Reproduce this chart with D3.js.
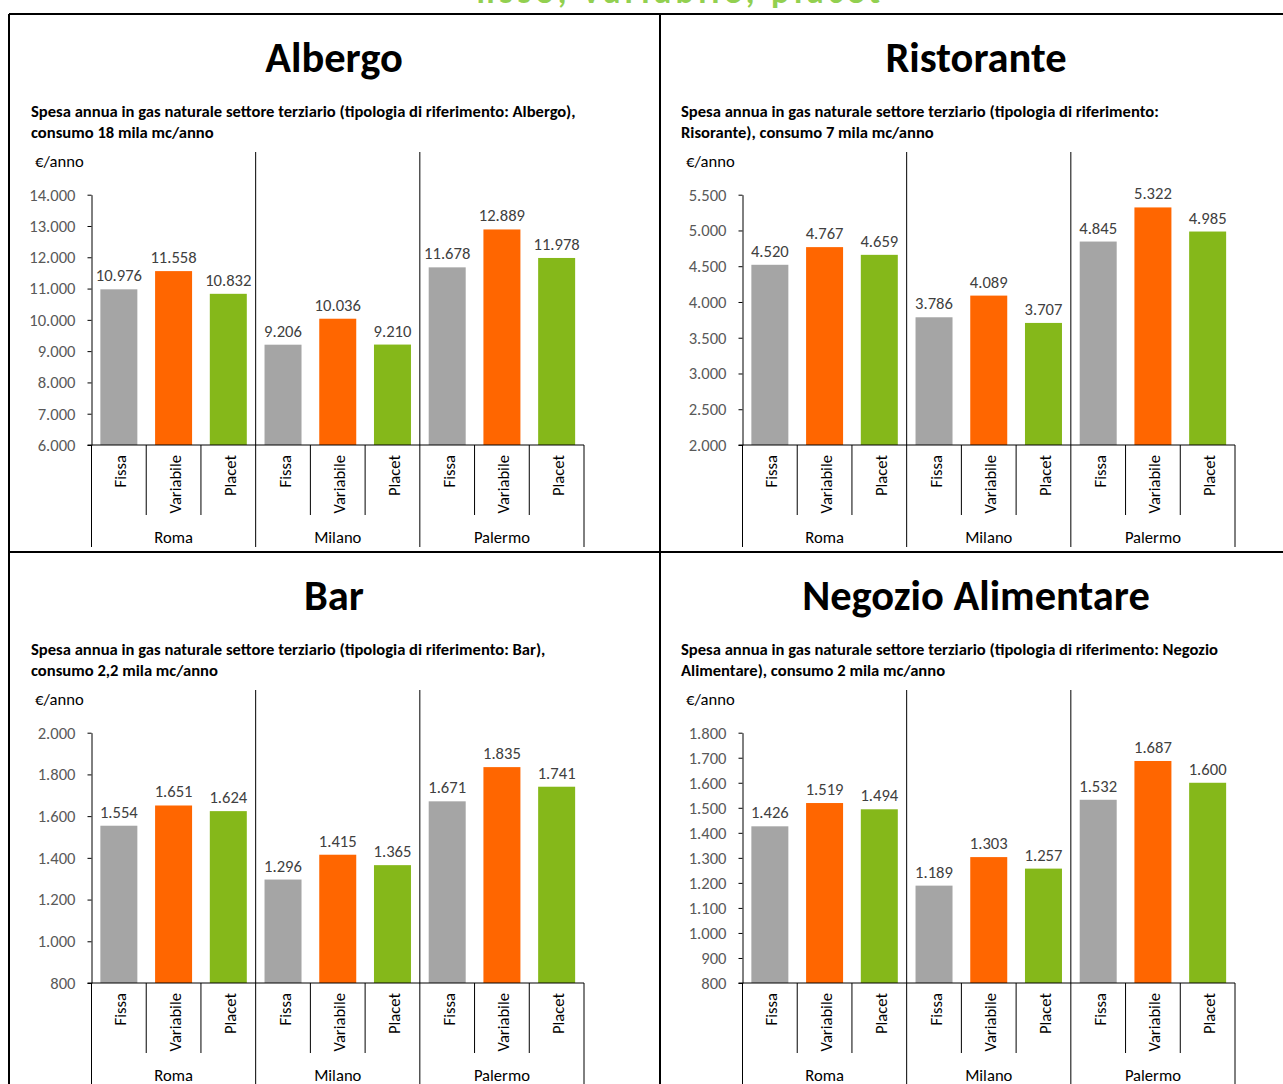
<!DOCTYPE html>
<html>
<head>
<meta charset="utf-8">
<script src="https://cdn.jsdelivr.net/npm/d3@7"></script>
<style>
  body { margin: 0; background: #fff; }
  svg { display: block; }
  text { font-family: Carlito, Lato, "Noto Sans", sans-serif; }
</style>
</head>
<body>
<svg id="chart" width="1283" height="1084"></svg>
<script>
// ---- data -------------------------------------------------------------
const cities = ["Roma", "Milano", "Palermo"];
const offers = ["Fissa", "Variabile", "Placet"];
const offerColors = ["#A5A5A5", "#FF6600", "#85B81A"];

const headline = "fisso, variabile, placet";

const panelTitles = ["Albergo", "Ristorante", "Bar", "Negozio Alimentare"];
const panelSubtitles = [
  ["Spesa annua in gas naturale settore terziario (tipologia di riferimento: Albergo),", "consumo 18 mila mc/anno"],
  ["Spesa annua in gas naturale settore terziario (tipologia di riferimento:", "Risorante), consumo 7 mila mc/anno"],
  ["Spesa annua in gas naturale settore terziario (tipologia di riferimento: Bar),", "consumo 2,2 mila mc/anno"],
  ["Spesa annua in gas naturale settore terziario (tipologia di riferimento: Negozio", "Alimentare), consumo 2 mila mc/anno"]
];
const unitLabel = "€/anno";

// values per city: [Fissa, Variabile, Placet]
const albergoValues    = [[10976, 11558, 10832], [9206, 10036, 9210], [11678, 12889, 11978]];
const ristoranteValues = [[4520, 4767, 4659],    [3786, 4089, 3707],  [4845, 5322, 4985]];
const barValues        = [[1554, 1651, 1624],    [1296, 1415, 1365],  [1671, 1835, 1741]];
const negozioValues    = [[1426, 1519, 1494],    [1189, 1303, 1257],  [1532, 1687, 1600]];

// y axis ranges and tick steps
const albergoAxis    = [6000, 14000, 1000];
const ristoranteAxis = [2000, 5500, 500];
const barAxis        = [800, 2000, 200];
const negozioAxis    = [800, 1800, 100];

const panelValues = [albergoValues, ristoranteValues, barValues, negozioValues];
const panelAxes = [albergoAxis, ristoranteAxis, barAxis, negozioAxis];

// ---- layout -----------------------------------------------------------
const svg = d3.select("#chart");
const itLocale = d3.formatLocale({ decimal: ",", thousands: ".", grouping: [3], currency: ["€", ""] });
const fmt = itLocale.format(",d");

const PANEL_W = 651, PANEL_H = 538, ORIGIN_X = 9, ORIGIN_Y = 14;
const PLOT_L = 82.5, PLOT_T = 180.7, PLOT_B = 431, PLOT_W = 492.5;
const TITLE_X = [325, 316];
const SMALL = 16.6;

// partially visible headline above the frame
svg.append("text")
  .attr("x", 476).attr("y", 3)
  .attr("textLength", 404).attr("lengthAdjust", "spacing")
  .attr("fill", "#92D050")
  .attr("font-weight", "bold")
  .attr("font-size", 34)
  .text(headline);

panelTitles.forEach((title, i) => {
  const col = i % 2, row = Math.floor(i / 2);
  const ox = ORIGIN_X + col * PANEL_W, oy = ORIGIN_Y + row * PANEL_H;
  const g = svg.append("g").attr("transform", `translate(${ox},${oy})`);

  g.append("text")
    .attr("x", TITLE_X[col]).attr("y", 58)
    .attr("text-anchor", "middle")
    .attr("font-weight", "bold").attr("font-size", 42.5)
    .attr("fill", "#000")
    .text(title);

  panelSubtitles[i].forEach((line, k) => {
    g.append("text")
      .attr("x", 22 - col).attr("y", 103 + k * 20.5)
      .attr("font-weight", "bold").attr("font-size", 16.6)
      .attr("fill", "#000")
      .text(line);
  });

  g.append("text")
    .attr("x", 26).attr("y", 153)
    .attr("font-size", SMALL).attr("fill", "#000")
    .text(unitLabel);

  const [y0, y1, step] = panelAxes[i];
  const y = d3.scaleLinear().domain([y0, y1]).range([PLOT_B - PLOT_T, 0]);
  const x0 = d3.scaleBand().domain(cities).range([0, PLOT_W]);
  const x1 = d3.scaleBand().domain(offers).range([0, x0.bandwidth()])
    .paddingInner(0.324).paddingOuter(0.162);

  const plot = g.append("g").attr("transform", `translate(${PLOT_L},${PLOT_T})`);
  const h = PLOT_B - PLOT_T;

  // y axis
  const yAxis = plot.append("g")
    .call(d3.axisLeft(y)
      .tickValues(d3.range(y0, y1 + step / 2, step))
      .tickFormat(fmt)
      .tickSize(4).tickSizeOuter(0).tickPadding(12));
  yAxis.attr("font-family", null).attr("font-size", null);
  yAxis.selectAll("path, line").attr("stroke", "#000");
  yAxis.selectAll("text")
    .attr("font-size", SMALL).attr("fill", "#595959");

  // bars
  const groups = plot.selectAll("g.city")
    .data(cities.map((c, ci) => ({ city: c, vals: panelValues[i][ci] })))
    .join("g").attr("class", "city")
    .attr("transform", d => `translate(${x0(d.city)},0)`);

  groups.selectAll("rect")
    .data(d => d.vals.map((v, k) => ({ offer: offers[k], v, k })))
    .join("rect")
    .attr("x", d => x1(d.offer))
    .attr("width", x1.bandwidth())
    .attr("y", d => y(d.v))
    .attr("height", d => h - y(d.v))
    .attr("fill", d => offerColors[d.k]);

  groups.selectAll("text.val")
    .data(d => d.vals.map((v, k) => ({ offer: offers[k], v, k })))
    .join("text").attr("class", "val")
    .attr("x", d => x1(d.offer) + x1.bandwidth() / 2)
    .attr("y", d => y(d.v) - 8)
    .attr("text-anchor", "middle")
    .attr("font-size", SMALL).attr("fill", "#404040")
    .text(d => fmt(d.v));

  // x axis line
  plot.append("line")
    .attr("x1", -4).attr("x2", PLOT_W)
    .attr("y1", h).attr("y2", h)
    .attr("stroke", "#000");

  // category separators and labels
  const step1 = x1.step();
  cities.forEach(c => {
    const gx = x0(c);
    [1, 2].forEach(k => {
      plot.append("line")
        .attr("x1", gx + k * step1).attr("x2", gx + k * step1)
        .attr("y1", h).attr("y2", h + 70)
        .attr("stroke", "#000");
    });
    offers.forEach(o => {
      const cx = gx + x1(o) + x1.bandwidth() / 2 + 1.5;
      plot.append("text")
        .attr("transform", `translate(${cx},${h + 10}) rotate(-90)`)
        .attr("text-anchor", "end")
        .attr("dominant-baseline", "central")
        .attr("font-size", SMALL).attr("fill", "#000")
        .text(o);
    });
    plot.append("text")
      .attr("x", gx + x0.bandwidth() / 2).attr("y", h + 98)
      .attr("text-anchor", "middle")
      .attr("font-size", SMALL).attr("fill", "#000")
      .text(c);
  });

  // city separators
  d3.range(cities.length + 1).forEach(k => {
    const gx = k * x0.bandwidth();
    const top = (k === 0 || k === cities.length) ? h : -42.7;
    plot.append("line")
      .attr("x1", gx).attr("x2", gx)
      .attr("y1", top).attr("y2", h + 102)
      .attr("stroke", "#000");
  });
});

// panel frame
const frame = svg.append("g").attr("stroke", "#000").attr("stroke-width", 2);
frame.append("line").attr("x1", ORIGIN_X).attr("x2", 1283).attr("y1", ORIGIN_Y).attr("y2", ORIGIN_Y);
frame.append("line").attr("x1", ORIGIN_X).attr("x2", 1283).attr("y1", ORIGIN_Y + PANEL_H).attr("y2", ORIGIN_Y + PANEL_H);
frame.append("line").attr("x1", ORIGIN_X).attr("x2", ORIGIN_X).attr("y1", ORIGIN_Y).attr("y2", 1084);
frame.append("line").attr("x1", ORIGIN_X + PANEL_W).attr("x2", ORIGIN_X + PANEL_W).attr("y1", ORIGIN_Y).attr("y2", 1084);
</script>
</body>
</html>
